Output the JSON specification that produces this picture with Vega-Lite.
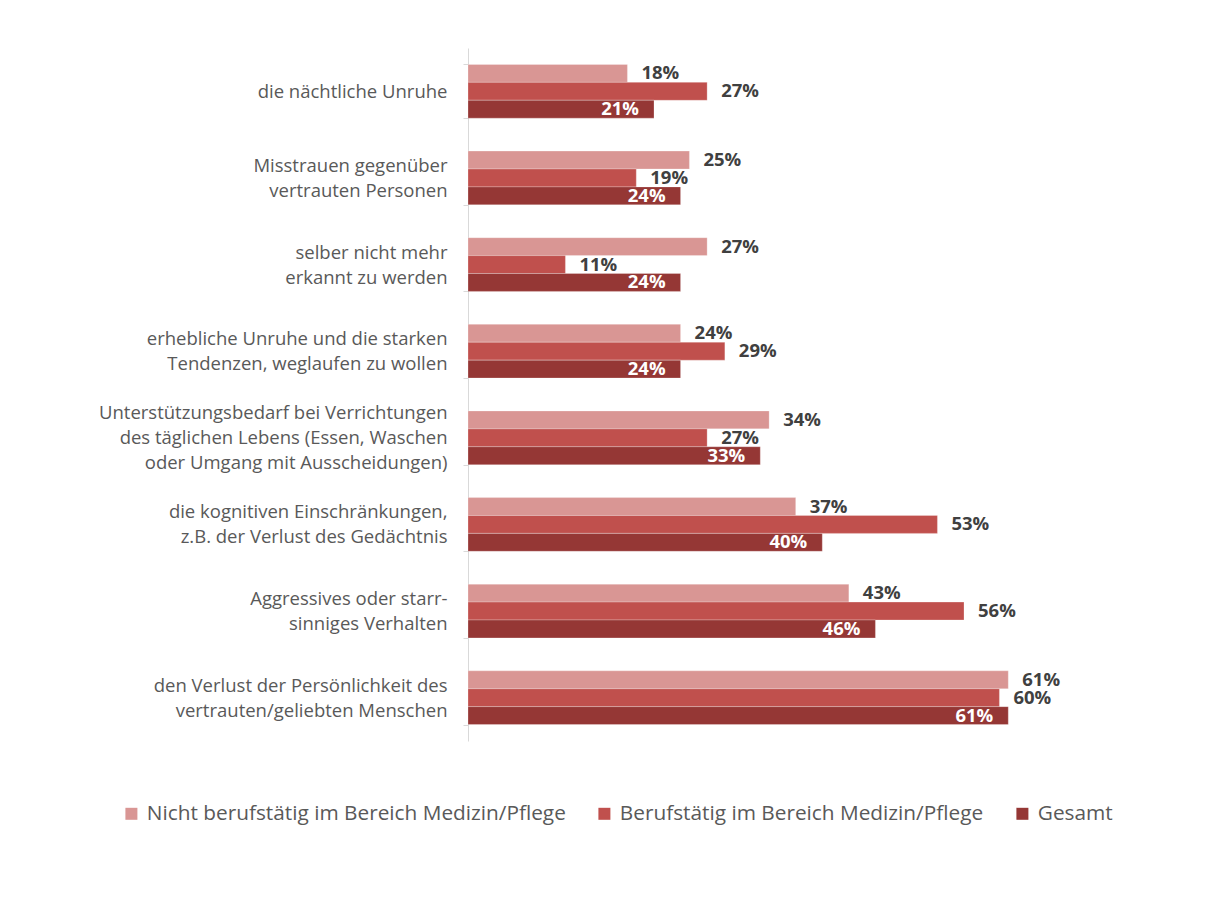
{
  "$schema": "https://vega.github.io/schema/vega-lite/v6.json",
  "autosize": "none",
  "padding": {"left": 468, "top": 48, "right": 0, "bottom": 169},
  "width": 755,
  "height": 693,
  "background": "white",
  "data": {
    "values": [
      {"cat": "die nächtliche Unruhe", "series": "Nicht berufstätig im Bereich Medizin/Pflege", "ord": 1, "value": 0.18},
      {"cat": "die nächtliche Unruhe", "series": "Berufstätig im Bereich Medizin/Pflege", "ord": 2, "value": 0.27},
      {"cat": "die nächtliche Unruhe", "series": "Gesamt", "ord": 3, "value": 0.21},
      {"cat": "Misstrauen gegenüber|vertrauten Personen", "series": "Nicht berufstätig im Bereich Medizin/Pflege", "ord": 1, "value": 0.25},
      {"cat": "Misstrauen gegenüber|vertrauten Personen", "series": "Berufstätig im Bereich Medizin/Pflege", "ord": 2, "value": 0.19},
      {"cat": "Misstrauen gegenüber|vertrauten Personen", "series": "Gesamt", "ord": 3, "value": 0.24},
      {"cat": "selber nicht mehr|erkannt zu werden", "series": "Nicht berufstätig im Bereich Medizin/Pflege", "ord": 1, "value": 0.27},
      {"cat": "selber nicht mehr|erkannt zu werden", "series": "Berufstätig im Bereich Medizin/Pflege", "ord": 2, "value": 0.11},
      {"cat": "selber nicht mehr|erkannt zu werden", "series": "Gesamt", "ord": 3, "value": 0.24},
      {"cat": "erhebliche Unruhe und die starken|Tendenzen, weglaufen zu wollen", "series": "Nicht berufstätig im Bereich Medizin/Pflege", "ord": 1, "value": 0.24},
      {"cat": "erhebliche Unruhe und die starken|Tendenzen, weglaufen zu wollen", "series": "Berufstätig im Bereich Medizin/Pflege", "ord": 2, "value": 0.29},
      {"cat": "erhebliche Unruhe und die starken|Tendenzen, weglaufen zu wollen", "series": "Gesamt", "ord": 3, "value": 0.24},
      {"cat": "Unterstützungsbedarf bei Verrichtungen|des täglichen Lebens (Essen, Waschen|oder Umgang mit Ausscheidungen)", "series": "Nicht berufstätig im Bereich Medizin/Pflege", "ord": 1, "value": 0.34},
      {"cat": "Unterstützungsbedarf bei Verrichtungen|des täglichen Lebens (Essen, Waschen|oder Umgang mit Ausscheidungen)", "series": "Berufstätig im Bereich Medizin/Pflege", "ord": 2, "value": 0.27},
      {"cat": "Unterstützungsbedarf bei Verrichtungen|des täglichen Lebens (Essen, Waschen|oder Umgang mit Ausscheidungen)", "series": "Gesamt", "ord": 3, "value": 0.33},
      {"cat": "die kognitiven Einschränkungen,|z.B. der Verlust des Gedächtnis", "series": "Nicht berufstätig im Bereich Medizin/Pflege", "ord": 1, "value": 0.37},
      {"cat": "die kognitiven Einschränkungen,|z.B. der Verlust des Gedächtnis", "series": "Berufstätig im Bereich Medizin/Pflege", "ord": 2, "value": 0.53},
      {"cat": "die kognitiven Einschränkungen,|z.B. der Verlust des Gedächtnis", "series": "Gesamt", "ord": 3, "value": 0.40},
      {"cat": "Aggressives oder starr-|sinniges Verhalten", "series": "Nicht berufstätig im Bereich Medizin/Pflege", "ord": 1, "value": 0.43},
      {"cat": "Aggressives oder starr-|sinniges Verhalten", "series": "Berufstätig im Bereich Medizin/Pflege", "ord": 2, "value": 0.56},
      {"cat": "Aggressives oder starr-|sinniges Verhalten", "series": "Gesamt", "ord": 3, "value": 0.46},
      {"cat": "den Verlust der Persönlichkeit des|vertrauten/geliebten Menschen", "series": "Nicht berufstätig im Bereich Medizin/Pflege", "ord": 1, "value": 0.61},
      {"cat": "den Verlust der Persönlichkeit des|vertrauten/geliebten Menschen", "series": "Berufstätig im Bereich Medizin/Pflege", "ord": 2, "value": 0.60},
      {"cat": "den Verlust der Persönlichkeit des|vertrauten/geliebten Menschen", "series": "Gesamt", "ord": 3, "value": 0.61}
    ]
  },
  "encoding": {
    "y": {
      "field": "cat",
      "type": "nominal",
      "sort": null,
      "scale": {"paddingInner": 0.38, "paddingOuter": 0.19},
      "axis": {
        "title": null,
        "labelExpr": "split(datum.label, '|')",
        "labelFont": "Open Sans",
        "labelFontSize": 18.5,
        "labelColor": "#595959",
        "labelLineHeight": 25,
        "labelPadding": 16,
        "labelLimit": 500,
        "labelOffset": {
          "condition": [
            {"test": "length(split(datum.label, '|')) == 3", "value": -25},
            {"test": "length(split(datum.label, '|')) == 2", "value": -12.5}
          ],
          "value": 0
        },
        "tickBand": "extent",
        "tickSize": 5,
        "tickColor": "#D9D9D9",
        "domainColor": "#D9D9D9",
        "grid": false
      }
    },
    "yOffset": {"field": "ord", "type": "ordinal", "scale": {"paddingInner": 0, "paddingOuter": 0}},
    "x": {"field": "value", "type": "quantitative", "scale": {"domain": [0, 0.7], "range": [0, 620]}, "axis": null}
  },
  "layer": [
    {
      "mark": {"type": "bar", "stroke": "white", "strokeWidth": 0.5, "strokeOpacity": 0.5},
      "encoding": {
        "color": {
          "field": "series",
          "type": "nominal",
          "sort": ["Nicht berufstätig im Bereich Medizin/Pflege", "Berufstätig im Bereich Medizin/Pflege", "Gesamt"],
          "scale": {
            "domain": ["Nicht berufstätig im Bereich Medizin/Pflege", "Berufstätig im Bereich Medizin/Pflege", "Gesamt"],
            "range": ["#D99694", "#C0504D", "#953735"]
          },
          "legend": {
            "title": null,
            "orient": "none",
            "direction": "horizontal",
            "legendX": -347,
            "legendY": 755,
            "symbolType": "square",
            "symbolSize": 144,
            "symbolStrokeWidth": 0,
            "labelFont": "Open Sans",
            "labelFontSize": 20.8,
            "labelColor": "#595959",
            "labelOffset": 5,
            "labelLimit": 600,
            "columnPadding": 28
          }
        }
      }
    },
    {
      "transform": [{"filter": "datum.ord < 3"}],
      "mark": {"type": "text", "align": "left", "baseline": "middle", "dx": 14, "font": "Open Sans", "fontSize": 18.5, "fontWeight": "bold", "color": "#404040"},
      "encoding": {"text": {"field": "value", "type": "quantitative", "format": ".0%"}}
    },
    {
      "transform": [{"filter": "datum.ord == 3"}],
      "mark": {"type": "text", "align": "right", "baseline": "middle", "dx": -15, "font": "Open Sans", "fontSize": 18.5, "fontWeight": "bold", "color": "white"},
      "encoding": {"text": {"field": "value", "type": "quantitative", "format": ".0%"}}
    }
  ],
  "config": {"view": {"stroke": null}}
}
